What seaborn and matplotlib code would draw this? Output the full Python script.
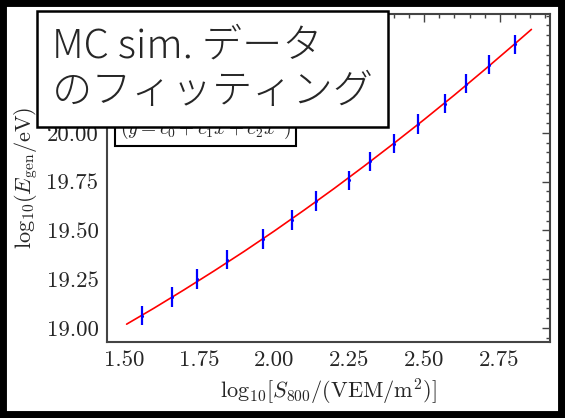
import numpy as np
import matplotlib
matplotlib.use("Agg")
import matplotlib.pyplot as plt
import matplotlib.patches as mpatches
from matplotlib.ticker import MultipleLocator, FormatStrFormatter
import seaborn as sns
import pandas as pd

# ---- data ----
x_points = [1.561, 1.659, 1.744, 1.842, 1.964, 2.058, 2.140, 2.249, 2.320,
            2.398, 2.479, 2.567, 2.637, 2.716, 2.801]
y_points = [19.063, 19.157, 19.250, 19.350, 19.455, 19.553, 19.650, 19.756,
            19.854, 19.945, 20.046, 20.150, 20.252, 20.350, 20.453]
y_err = [0.05] * 15

fit_x = [1.509, 1.60, 1.70, 1.80, 1.90, 2.00, 2.10, 2.20, 2.30, 2.40,
         2.50, 2.60, 2.70, 2.80, 2.856]
fit_y = [19.019, 19.101, 19.195, 19.292, 19.392, 19.496, 19.604, 19.715,
         19.830, 19.948, 20.069, 20.194, 20.323, 20.455, 20.530]

xticks = [1.50, 1.75, 2.00, 2.25, 2.50, 2.75]
yticks = [19.00, 19.25, 19.50, 19.75, 20.00]

title_text = "MC sim. データ\nのフィッティング"
legend_text = r"$(y = c_0 + c_1 x + c_2 x^2)$"
xlabel = r"$\mathrm{log}_{10}[S_{800}/(\mathrm{VEM/m^2})]$"
ylabel = r"$\mathrm{log}_{10}(E_{\mathrm{gen}}/\mathrm{eV})$"

sns.set_theme(style="white")
plt.rcParams["font.family"] = ["cmr10", "DejaVu Serif"]
plt.rcParams["mathtext.fontset"] = "cm"
plt.rcParams["axes.formatter.use_mathtext"] = True

fig = plt.figure(figsize=(5.65, 4.18), dpi=100)
ax = fig.add_axes([0.189, 0.182, 0.784, 0.785])

df_fit = pd.DataFrame({"x": fit_x, "y": fit_y})
sns.lineplot(data=df_fit, x="x", y="y", ax=ax, color="red", lw=1.2,
             sort=False, estimator=None)
ax.errorbar(x_points, y_points, yerr=y_err, fmt=".", color="blue",
            ecolor="blue", elinewidth=1.6, markersize=2.5, capsize=0)

ax.set_xlim(1.443, 2.917)
ax.set_ylim(18.928, 20.61)
ax.set_xticks(xticks)
ax.set_yticks(yticks)
ax.xaxis.set_minor_locator(MultipleLocator(0.05))
ax.yaxis.set_minor_locator(MultipleLocator(0.05))
ax.xaxis.set_major_formatter(FormatStrFormatter("%.2f"))
ax.yaxis.set_major_formatter(FormatStrFormatter("%.2f"))
ax.tick_params(which="both", direction="in", top=True, right=True,
               color="#444444", labelsize=16.5, width=1.0)
ax.tick_params(which="major", length=6, pad=6)
ax.tick_params(which="minor", length=3)
for s in ax.spines.values():
    s.set_color("#444444")
    s.set_linewidth(1.5)

ax.set_xlabel(xlabel, fontsize=16, labelpad=5)
ax.set_ylabel(ylabel, fontsize=16, labelpad=5)

# partially hidden legend-like box
ax.text(0.029, 0.612, legend_text, transform=ax.transAxes, fontsize=14,
        ha="left", va="bottom",
        bbox=dict(boxstyle="square,pad=0.25", fc="white", ec="black", lw=1.5),
        zorder=5)

# large overlay title box
fig.text(0.092, 0.835, title_text, fontsize=29,
         family=["Noto Sans CJK JP", "DejaVu Sans"], fontweight="light",
         ha="left", va="center", linespacing=1.12,
         bbox=dict(boxstyle="square,pad=0.36", fc="white", ec="black", lw=1.8),
         zorder=10)

# thick figure frame
fig.patches.append(mpatches.Rectangle((0, 0), 1, 1, transform=fig.transFigure,
                                      fill=False, ec="black", lw=10,
                                      zorder=20))

fig.savefig("out.png", dpi=100)
